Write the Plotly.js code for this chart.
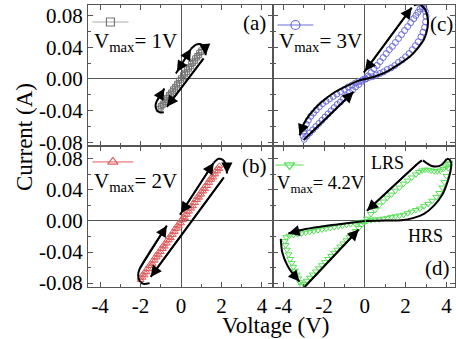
<!DOCTYPE html>
<html><head><meta charset="utf-8">
<script src="https://cdn.plot.ly/plotly-3.0.1.min.js"></script>
<style>html,body{margin:0;padding:0;background:#fff}#chart{width:456px;height:339px}</style>
</head><body><div id="chart"></div>
<script>
// ---------- DATA ----------
// tick labels
const xTickVals = [-4, -2, 0, 2, 4];
const xTickText = ['-4', '-2', '0', '2', '4'];
const yTickVals = [-0.08, -0.04, 0, 0.04, 0.08];
const yTickText = ['-0.08', '-0.04', '0.00', '0.04', '0.08'];

// (a) Vmax = 1 V  (squares)
const aV1 = [-1.0,-0.9,-0.8,-0.7,-0.6,-0.5,-0.4,-0.3,-0.2,-0.1,0,0.1,0.2,0.3,0.4,0.5,0.6,0.7,0.8,0.9,1.0];
const aI1 = [-0.034,-0.031,-0.027,-0.024,-0.020,-0.017,-0.013,-0.010,-0.006,-0.002,0.001,0.005,0.008,0.012,0.015,0.019,0.022,0.026,0.029,0.033,0.036];
const aV2 = [1.0,0.9,0.8,0.7,0.6,0.5,0.4,0.3,0.2,0.1,0,-0.1,-0.2,-0.3,-0.4,-0.5,-0.6,-0.7,-0.8,-0.9,-1.0,-1.1];
const aI2 = [0.034,0.030,0.027,0.023,0.020,0.016,0.013,0.009,0.006,0.002,-0.001,-0.005,-0.008,-0.012,-0.015,-0.019,-0.022,-0.026,-0.029,-0.033,-0.036,-0.038];
const aGuideV = [[-0.85,-1.05,-1.2,-1.26,-1.22,-0.82],[-0.25,0.5],[0.5,0.72,0.95,1.12,1.2,1.22],[1.12,-0.7]];
const aGuideI = [[-0.042,-0.042,-0.039,-0.034,-0.029,-0.012],[0.007,0.038],[0.038,0.043,0.044,0.041,0.036,0.030],[0.026,-0.035]];
const aHeads = ['end','end+start','end','end'];

// (b) Vmax = 2 V  (triangles)
const bV1 = [-2.0,-1.9,-1.8,-1.7,-1.6,-1.5,-1.4,-1.3,-1.2,-1.1,-1.0,-0.9,-0.8,-0.7,-0.6,-0.5,-0.4,-0.3,-0.2,-0.1,0,0.1,0.2,0.3,0.4,0.5,0.6,0.7,0.8,0.9,1.0,1.1,1.2,1.3,1.4,1.5,1.6,1.7,1.8,1.9];
const bI1 = [-0.073,-0.069,-0.066,-0.062,-0.058,-0.055,-0.051,-0.047,-0.043,-0.040,-0.036,-0.032,-0.029,-0.025,-0.021,-0.018,-0.014,-0.010,-0.006,-0.003,0.001,0.005,0.008,0.012,0.016,0.019,0.023,0.027,0.031,0.034,0.038,0.042,0.045,0.049,0.053,0.056,0.060,0.064,0.068,0.071];
const bV2 = [1.9,1.8,1.7,1.6,1.5,1.4,1.3,1.2,1.1,1.0,0.9,0.8,0.7,0.6,0.5,0.4,0.3,0.2,0.1,0,-0.1,-0.2,-0.3,-0.4,-0.5,-0.6,-0.7,-0.8,-0.9,-1.0,-1.1,-1.2,-1.3,-1.4,-1.5,-1.6,-1.7,-1.8,-1.9,-2.0];
const bI2 = [0.067,0.064,0.060,0.056,0.053,0.049,0.045,0.041,0.038,0.034,0.030,0.027,0.023,0.019,0.016,0.012,0.008,0.004,0.001,-0.003,-0.007,-0.010,-0.014,-0.018,-0.022,-0.025,-0.029,-0.033,-0.036,-0.040,-0.044,-0.047,-0.051,-0.055,-0.058,-0.062,-0.066,-0.070,-0.073,-0.076];
const bGuideV = [[-1.55,-1.85,-2.05,-2.12,-2.05,-0.7],[-0.05,1.62],[1.62,1.85,2.05,2.2,2.27,2.27],[2.12,-1.5]];
const bGuideI = [[-0.080,-0.081,-0.077,-0.070,-0.062,-0.006],[0.008,0.075],[0.075,0.080,0.079,0.074,0.068,0.061],[0.056,-0.072]];
const bHeads = ['end','end+start','end','end'];

// (c) Vmax = 3 V  (circles)
const cV1 = [0,0.15,0.3,0.45,0.6,0.75,0.9,1.05,1.2,1.35,1.5,1.65,1.8,1.95,2.1,2.25,2.4,2.5,2.6,2.7,2.8];
const cI1 = [0,0.004,0.008,0.013,0.017,0.022,0.027,0.032,0.037,0.041,0.046,0.051,0.056,0.061,0.066,0.071,0.076,0.080,0.084,0.088,0.091];
const cV2 = [2.9,2.97,3.0,2.98,2.93,2.85,2.75,2.62,2.48,2.33,2.17,2.0,1.83,1.65,1.47,1.29,1.1,0.92,0.74,0.56,0.38,0.2,0.05];
const cI2 = [0.089,0.085,0.079,0.072,0.065,0.059,0.053,0.047,0.042,0.037,0.032,0.028,0.024,0.021,0.017,0.014,0.012,0.009,0.007,0.005,0.003,0.002,0.000];
const cV3 = [-0.15,-0.3,-0.45,-0.6,-0.75,-0.9,-1.05,-1.2,-1.35,-1.5,-1.65,-1.8,-1.95,-2.1,-2.25,-2.4,-2.55,-2.7,-2.85,-2.97];
const cI3 = [-0.003,-0.007,-0.010,-0.014,-0.017,-0.021,-0.025,-0.029,-0.032,-0.036,-0.040,-0.044,-0.048,-0.052,-0.056,-0.060,-0.064,-0.068,-0.072,-0.076];
const cV4 = [-3.02,-3.0,-2.95,-2.87,-2.77,-2.65,-2.52,-2.38,-2.23,-2.07,-1.9,-1.73,-1.55,-1.37,-1.19,-1.0,-0.82,-0.64,-0.46,-0.28,-0.1];
const cI4 = [-0.072,-0.067,-0.062,-0.057,-0.052,-0.047,-0.043,-0.039,-0.035,-0.031,-0.028,-0.025,-0.022,-0.019,-0.016,-0.013,-0.010,-0.008,-0.005,-0.003,-0.001];
const cGuideV = [[-0.05,2.3],[2.4,2.7,2.95,3.08,3.07,2.9,2.6,2.2,1.7,1.2,0.7,0.2,-0.3,-0.9,-1.5,-2.2,-2.7,-3.0,-3.2],[-3.0,-0.55]];
const cGuideI = [[0.008,0.090],[0.093,0.094,0.088,0.077,0.064,0.050,0.039,0.028,0.019,0.011,0.005,0.001,-0.002,-0.009,-0.017,-0.031,-0.045,-0.057,-0.071],[-0.077,-0.016]];
const cHeads = ['end+start','end','end'];

// (d) Vmax = 4.2 V  (down triangles)
const dV1 = [0.1,0.3,0.5,0.7,0.9,1.1,1.3,1.5,1.7,1.9,2.1,2.3,2.5,2.7,2.9,3.1,3.3,3.5,3.65,3.8,3.9,4.0,4.1,4.15];
const dI1 = [0.000,0.001,0.002,0.002,0.003,0.004,0.005,0.006,0.007,0.008,0.010,0.012,0.014,0.016,0.019,0.022,0.026,0.031,0.036,0.043,0.050,0.058,0.068,0.075];
const dV2 = [4.1,4.0,3.85,3.7,3.55,3.4,3.25,3.1,2.95,2.8,2.65,2.5,2.3,2.1,1.9,1.7,1.5,1.3,1.1,0.9,0.7,0.5,0.3,0.1];
const dI2 = [0.073,0.070,0.067,0.065,0.064,0.064,0.065,0.066,0.066,0.065,0.063,0.060,0.056,0.052,0.048,0.043,0.039,0.034,0.030,0.025,0.020,0.014,0.009,0.003];
const dV3 = [-0.1,-0.3,-0.5,-0.7,-0.9,-1.1,-1.3,-1.5,-1.7,-1.9,-2.1,-2.3,-2.5,-2.7,-2.9,-3.1,-3.3,-3.5,-3.7,-3.85];
const dI3 = [-0.001,-0.002,-0.003,-0.004,-0.005,-0.006,-0.007,-0.008,-0.009,-0.010,-0.011,-0.012,-0.013,-0.014,-0.015,-0.016,-0.017,-0.018,-0.019,-0.021];
const dV4 = [-3.92,-3.88,-3.82,-3.74,-3.66,-3.58,-3.5,-3.42,-3.34,-3.26,-3.18,-3.1];
const dI4 = [-0.026,-0.031,-0.037,-0.043,-0.049,-0.054,-0.059,-0.064,-0.069,-0.074,-0.079,-0.083];
const dV5 = [-3.0,-2.85,-2.7,-2.55,-2.4,-2.25,-2.1,-1.95,-1.8,-1.65,-1.5,-1.35,-1.2,-1.05,-0.9,-0.75,-0.6,-0.45,-0.3,-0.15,0];
const dI5 = [-0.081,-0.077,-0.073,-0.069,-0.065,-0.061,-0.057,-0.053,-0.049,-0.045,-0.041,-0.037,-0.033,-0.029,-0.025,-0.021,-0.017,-0.013,-0.009,-0.005,-0.001];
const dGuideV = [[0.05,1.0,1.8,2.4,2.9,3.4,3.8,4.05,4.2,4.25],[4.25,4.15,4.02],[4.02,3.75,3.5,3.25,3.0,2.85],[2.8,2.6,0.1],[0,-1.5,-3.0,-3.75],[-4.12,-4.05,-3.8,-3.5,-3.2],[-2.95,-0.3]];
const dGuideI = [[0.000,0.0005,0.001,0.004,0.009,0.020,0.034,0.050,0.064,0.074],[0.074,0.079,0.080],[0.080,0.072,0.070,0.071,0.075,0.078],[0.078,0.074,0.013],[0,-0.005,-0.011,-0.016],[-0.023,-0.040,-0.057,-0.069,-0.078],[-0.085,-0.011]];
const dHeads = ['none','end','end','end','end','end','end'];

const panelNames = ['V<sub>max</sub>= 1V', 'V<sub>max</sub>= 3V', 'V<sub>max</sub>= 2V', 'V<sub>max</sub>= 4.2V'];
const panelTags = ['(a)', '(c)', '(b)', '(d)'];

// ---------- STYLE / LAYOUT ----------
const FONT = 'Liberation Serif, Times New Roman, serif';
const AX = '#555';
const W = 456, H = 339;
const colL = [88 / W, 273 / W], colR = [273 / W, 455 / W];
const rowT = [1 - 146 / H, 1 - 5 / H], rowB = [1 - 287 / H, 1 - 146 / H];
const xRangeL = [-4.6, 4.55], xRangeR = [-4.5, 4.42];
const yRangeT = [-0.0844, 0.0932], yRangeB = [-0.085, 0.0965];

function xAxis(domain, range, anchor, labels) {
  return {domain, range, anchor, showline: true, linecolor: AX, linewidth: 1, mirror: 'ticks',
    ticks: 'inside', ticklen: 5, tickcolor: AX, tickmode: 'array', tickvals: xTickVals, ticktext: xTickText,
    showticklabels: labels, tickfont: {family: FONT, size: 21, color: '#000'},
    minor: {ticks: 'inside', ticklen: 3, tickcolor: AX, dtick: 1, tick0: 0},
    showgrid: false, zeroline: true, zerolinecolor: AX, zerolinewidth: 1, fixedrange: true};
}
function yAxis(domain, range, anchor, labels) {
  return {domain, range, anchor, showline: true, linecolor: AX, linewidth: 1, mirror: 'ticks',
    ticks: 'inside', ticklen: 5, tickcolor: AX, tickmode: 'array', tickvals: yTickVals, ticktext: yTickText,
    showticklabels: labels, tickfont: {family: FONT, size: 21, color: '#000'},
    minor: {ticks: 'inside', ticklen: 3, tickcolor: AX, dtick: 0.02, tick0: 0},
    showgrid: false, zeroline: true, zerolinecolor: AX, zerolinewidth: 1, fixedrange: true};
}

const panels = [
  {id: '', sym: 'square-open', col: '#777', keyLine: '#aaa', size: 5, data: [[aV1, aI1], [aV2, aI2]], gv: aGuideV, gi: aGuideI, heads: aHeads,
   key: {x0: -4.38, x1: -2.6, y: 0.0718, ms: 8}, name: {x: -4.4, y: 0.066, size: 21}, tag: {x: 3.65, y: 0.0706}},
  {id: '2', sym: 'circle-open', col: '#6a6ade', keyLine: '#6a6ade', size: 6, data: [[cV1, cI1], [cV2, cI2], [cV3, cI3], [cV4, cI4]], gv: cGuideV, gi: cGuideI, heads: cHeads,
   key: {x0: -4.28, x1: -2.52, y: 0.068, ms: 9}, name: {x: -4.3, y: 0.066, size: 21}, tag: {x: 3.78, y: 0.0693}},
  {id: '3', sym: 'triangle-up-open', col: '#e05c5c', keyLine: '#e05c5c', size: 6, data: [[bV1, bI1], [bV2, bI2]], gv: bGuideV, gi: bGuideI, heads: bHeads,
   key: {x0: -4.38, x1: -2.36, y: 0.076, ms: 9}, name: {x: -4.4, y: 0.069, size: 21}, tag: {x: 3.65, y: 0.0708}},
  {id: '4', sym: 'triangle-down-open', col: '#55e055', keyLine: '#55e055', size: 6, data: [[dV1, dI1], [dV2, dI2], [dV3, dI3], [dV4, dI4], [dV5, dI5]], gv: dGuideV, gi: dGuideI, heads: dHeads,
   key: {x0: -4.38, x1: -3.0, y: 0.072, ms: 9}, name: {x: -4.4, y: 0.064, size: 18.5}, tag: {x: 3.56, y: -0.0605}}
];

const traces = [];
const annotations = [];
panels.forEach(p => {
  const xa = 'x' + p.id, ya = 'y' + p.id;
  p.data.forEach(([v, i]) => traces.push({x: v, y: i, xaxis: xa, yaxis: ya, mode: 'markers', type: 'scatter',
    marker: {symbol: p.sym, size: p.size, color: p.col, line: {width: 1, color: p.col}}, hoverinfo: 'skip'}));
  p.gv.forEach((v, k) => {
    const i = p.gi[k];
    traces.push({x: v, y: i, xaxis: xa, yaxis: ya, mode: 'lines', type: 'scatter',
      line: {color: '#000', width: 2, shape: 'spline', smoothing: 0.6}, hoverinfo: 'skip'});
    if (p.heads[k] !== 'none') {
      const n = v.length;
      annotations.push({x: v[n - 1], y: i[n - 1], ax: v[n - 2], ay: i[n - 2], xref: xa, yref: ya, axref: xa, ayref: ya,
        text: '', showarrow: true, arrowhead: 2, arrowsize: 1.4, arrowwidth: 1.6, arrowcolor: '#000',
        arrowside: p.heads[k], startarrowhead: 2, startarrowsize: 1.4, standoff: 0, startstandoff: 0});
    }
  });
  // legend key
  traces.push({x: [p.key.x0, (p.key.x0 + p.key.x1) / 2, p.key.x1], y: [p.key.y, p.key.y, p.key.y], xaxis: xa, yaxis: ya,
    mode: 'lines', type: 'scatter', line: {color: p.keyLine, width: 1}, hoverinfo: 'skip'});
  traces.push({x: [(p.key.x0 + p.key.x1) / 2], y: [p.key.y], xaxis: xa, yaxis: ya,
    mode: 'markers', type: 'scatter',
    marker: {symbol: p.sym, size: p.key.ms, color: p.col, line: {width: 1.2, color: p.col}}, hoverinfo: 'skip'});
});

panels.forEach((p, k) => {
  const xa = 'x' + p.id, ya = 'y' + p.id;
  annotations.push({x: p.name.x, y: p.name.y, xref: xa, yref: ya, xanchor: 'left', yanchor: 'top', showarrow: false,
    text: panelNames[k], font: {family: FONT, size: p.name.size, color: '#000'}});
  annotations.push({x: p.tag.x, y: p.tag.y, xref: xa, yref: ya, xanchor: 'center', yanchor: 'middle', showarrow: false,
    text: panelTags[k], font: {family: FONT, size: 21, color: '#000'}});
});
annotations.push({x: 1.1, y: 0.0746, xref: 'x4', yref: 'y4', xanchor: 'center', yanchor: 'middle', showarrow: false, text: 'LRS', font: {family: FONT, size: 18, color: '#000'}});
annotations.push({x: 2.97, y: -0.019, xref: 'x4', yref: 'y4', xanchor: 'center', yanchor: 'middle', showarrow: false, text: 'HRS', font: {family: FONT, size: 18, color: '#000'}});
annotations.push({x: 24 / W, y: 1 - 137 / H, xref: 'paper', yref: 'paper', xanchor: 'center', yanchor: 'middle', showarrow: false, textangle: -90,
  text: 'Current (A)', font: {family: FONT, size: 23, color: '#000'}});
annotations.push({x: 276 / W, y: 1 - 325 / H, xref: 'paper', yref: 'paper', xanchor: 'center', yanchor: 'middle', showarrow: false,
  text: 'Voltage (V)', font: {family: FONT, size: 23, color: '#000'}});

const layout = {
  width: W, height: H, margin: {l: 0, r: 0, t: 0, b: 0}, showlegend: false,
  paper_bgcolor: '#fff', plot_bgcolor: '#fff',
  xaxis: xAxis(colL, xRangeL, 'y', false), yaxis: yAxis(rowT, yRangeT, 'x', true),
  xaxis2: xAxis(colR, xRangeR, 'y2', false), yaxis2: yAxis(rowT, yRangeT, 'x2', false),
  xaxis3: xAxis(colL, xRangeL, 'y3', true), yaxis3: yAxis(rowB, yRangeB, 'x3', true),
  xaxis4: xAxis(colR, xRangeR, 'y4', true), yaxis4: yAxis(rowB, yRangeB, 'x4', false),
  annotations
};
Plotly.newPlot('chart', traces, layout, {staticPlot: true, displayModeBar: false});
</script></body></html>
